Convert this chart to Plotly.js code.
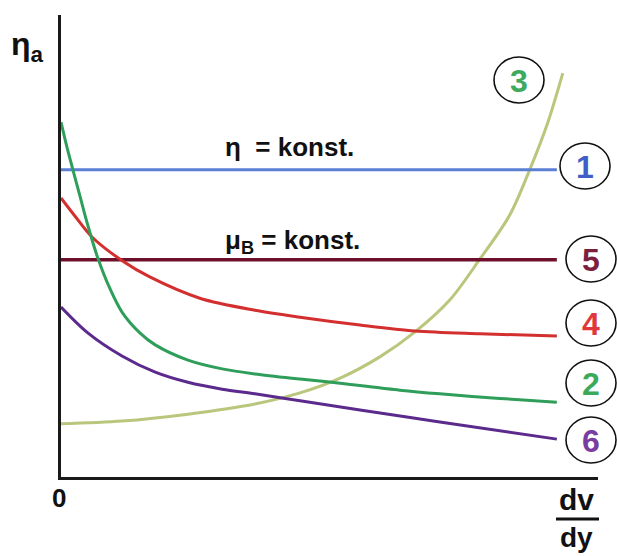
<!DOCTYPE html>
<html>
<head>
<meta charset="utf-8">
<script src="https://cdn.plot.ly/plotly-3.0.1.min.js"></script>
<style>html,body{margin:0;padding:0;background:#fff}#chart{width:617px;height:556px}</style>
</head>
<body>
<div id="chart"></div>
<script>
// ---- data (shear rate dv/dy vs apparent viscosity ηa, arbitrary units) ----
const curveLabels = ["1", "2", "3", "4", "5", "6"];

const x1 = [0, 10];
const y1 = [6.65, 6.65];            // 1: η = konst. (Newtonian)

const x5 = [0, 10];
const y5 = [4.70, 4.70];            // 5: μB = konst. (Bingham)

const x4 = [0, 0.28, 0.63, 1.25, 1.79, 2.80, 3.91, 4.82, 6.03, 7.14, 8.45, 10];
const y4 = [6.04, 5.65, 5.19, 4.67, 4.33, 3.87, 3.61, 3.46, 3.29, 3.16, 3.10, 3.05];

const x2 = [0, 0.12, 0.24, 0.38, 0.54, 0.73, 0.99, 1.23, 1.59, 1.90, 2.56, 3.25, 3.91, 4.82, 5.63, 6.83, 7.64, 8.85, 10];
const y2 = [7.68, 7.14, 6.65, 6.09, 5.45, 4.78, 4.07, 3.57, 3.12, 2.86, 2.53, 2.34, 2.23, 2.12, 2.03, 1.88, 1.80, 1.70, 1.62];

const x6 = [0, 0.54, 1.23, 1.90, 2.56, 3.25, 3.91, 4.82, 6.03, 7.64, 10];
const y6 = [3.68, 3.12, 2.62, 2.27, 2.05, 1.90, 1.80, 1.65, 1.45, 1.19, 0.82];

const x3 = [0, 1.23, 2.56, 3.91, 4.82, 5.63, 6.43, 7.14, 7.84, 8.45, 9.05, 9.46, 9.82, 10.12];
const y3 = [1.15, 1.21, 1.36, 1.58, 1.82, 2.14, 2.60, 3.14, 3.83, 4.72, 5.67, 6.67, 7.68, 8.74];

// ---- styling ----
const col = {
  l1: "#5a7fd4", l5: "#6e0f2c", l4: "#d42f2f", l2: "#2f9e5a", l6: "#5b2a8c", l3: "#b8c77c"
};
const numCol = {"1": "#3f5fc8", "2": "#3aaa5a", "3": "#3daa5f", "4": "#e0383a", "5": "#7b1f3f", "6": "#7a3ca0"};

function tr(x, y, c, w, spline) {
  return {x: x, y: y, type: "scatter", mode: "lines", hoverinfo: "skip",
          line: {color: c, width: w || 3, shape: spline ? "spline" : "linear", smoothing: 0.9}};
}
const data = [
  tr(x3, y3, col.l3, 3, true),
  tr(x1, y1, col.l1, 3),
  tr(x5, y5, col.l5, 3.5),
  tr(x4, y4, col.l4, 3, true),
  tr(x2, y2, col.l2, 3, true),
  tr(x6, y6, col.l6, 3, true)
];

// pixel -> paper helpers (plot area 61..598 x 15..477)
const L = 61, R = 598, T = 15, B = 477;
const px = v => (v - L) / (R - L);
const py = v => (B - v) / (B - T);

const FONT = "Liberation Sans, Arial, sans-serif";
const circles = [
  {n: "3", cx: 519, cy: 80},
  {n: "1", cx: 585, cy: 166},
  {n: "5", cx: 591, cy: 259},
  {n: "4", cx: 591, cy: 323},
  {n: "2", cx: 591, cy: 383},
  {n: "6", cx: 591, cy: 440}
];
const shapes = circles.map(c => ({
  type: "circle", xref: "paper", yref: "paper",
  x0: px(c.cx - 25), x1: px(c.cx + 25), y0: py(c.cy + 23), y1: py(c.cy - 23),
  line: {color: "#111", width: 1.6}
}));
shapes.push({type: "line", xref: "paper", yref: "paper",
  x0: px(556), x1: px(599), y0: py(519), y1: py(519), line: {color: "#111", width: 3}});

const ann = circles.map(c => ({
  xref: "paper", yref: "paper", x: px(c.cx), y: py(c.cy + 1), xanchor: "center", yanchor: "middle",
  text: "<b>" + c.n + "</b>", showarrow: false, font: {family: FONT, size: 32, color: numCol[c.n]}
}));
function txt(t, x, y, size, xa) {
  return {xref: "paper", yref: "paper", x: px(x), y: py(y), xanchor: xa || "left", yanchor: "middle",
          text: t, showarrow: false, font: {family: FONT, size: size, color: "#111"}};
}
ann.push(txt("<b>η  = konst.</b>", 223, 147, 26));
ann.push(txt("<b>μ<sub>B</sub> = konst.</b>", 223, 241, 26));
ann.push(txt("<b>η<sub>a</sub></b>", 9, 46, 32));
ann.push(txt("<b>0</b>", 59, 498, 26, "center"));
ann.push(txt("<b>dv</b>", 576, 500, 30, "center"));
ann.push(txt("<b>dy</b>", 576, 537, 28, "center"));

const layout = {
  width: 617, height: 556,
  margin: {l: L, r: 617 - R, t: T, b: 556 - B, pad: 0},
  paper_bgcolor: "#fff", plot_bgcolor: "#fff",
  showlegend: false,
  xaxis: {range: [0, 10.83], showline: true, linecolor: "#1a1a1a", linewidth: 3, showgrid: false,
          zeroline: false, showticklabels: false, ticks: "", fixedrange: true},
  yaxis: {range: [0, 10], showline: true, linecolor: "#1a1a1a", linewidth: 3, showgrid: false,
          zeroline: false, showticklabels: false, ticks: "", fixedrange: true},
  shapes: shapes,
  annotations: ann
};
Plotly.newPlot("chart", data, layout, {staticPlot: true, displayModeBar: false});
</script>
</body>
</html>
